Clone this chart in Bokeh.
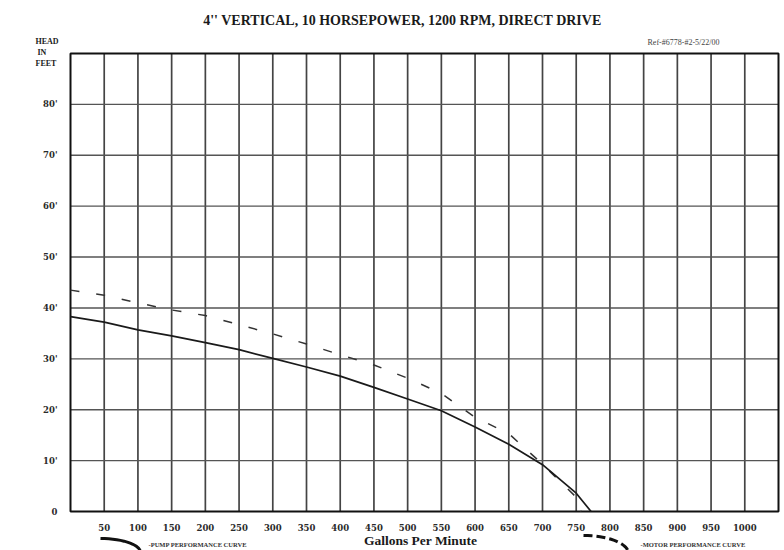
import numpy as np
from bokeh.plotting import figure
from bokeh.models import FixedTicker, Range1d, LinearAxis
from bokeh.core.properties import value
from bokeh.embed import file_html
from bokeh.resources import INLINE

# ---- data ----
gpm_pump = [0, 50, 100, 150, 200, 250, 300, 350, 400, 450, 500, 550, 600, 650, 700, 750, 772]
head_pump = [38.3, 37.2, 35.7, 34.5, 33.2, 31.8, 30.1, 28.4, 26.6, 24.4, 22.1, 19.8, 16.6, 13.2, 9.2, 3.6, 0]
gpm_motor = [0, 50, 100, 150, 200, 250, 300, 350, 400, 450, 500, 550, 600, 650, 700, 750, 757]
head_motor = [43.5, 42.5, 41.0, 39.6, 38.5, 36.7, 34.9, 32.9, 30.8, 28.8, 26.2, 23.2, 18.5, 15.3, 9.3, 2.8, 0]

x_ticks = list(range(50, 1001, 50))
y_ticks = list(range(0, 81, 10))
y_labels = {t: ("0" if t == 0 else f"{t}'") for t in y_ticks}
x_grid = list(range(50, 1001, 50))
y_grid = list(range(10, 81, 10))
X_MAX, Y_MAX = 1050, 90

title_text = "4'' VERTICAL, 10 HORSEPOWER, 1200 RPM, DIRECT DRIVE"
ref_text = "Ref-#6778-#2-5/22/00"
x_title = "Gallons Per Minute"
y_title = ["HEAD", "IN", "FEET"]
pump_legend = "-PUMP PERFORMANCE CURVE"
motor_legend = "-MOTOR PERFORMANCE CURVE"

# ---- geometry (canvas px of the chart box) ----
W, H = 784, 550
FL, FT, FR, FB = 70, 53, 778, 511
sx = (FR - FL) / X_MAX
sy = (FB - FT) / Y_MAX
xr0 = -FL / sx
yr0 = -(H - FB) / sy

def dx(px):
    return (px - FL) / sx

def dy(py):
    return (FB - py) / sy

p = figure(width=W, height=H, output_backend="svg", toolbar_location=None,
           x_range=Range1d(xr0, xr0 + W / sx), y_range=Range1d(yr0, yr0 + H / sy),
           min_border=0, x_axis_type=None, y_axis_type=None)
p.outline_line_color = None
p.background_fill_color = "white"
p.border_fill_color = "white"
p.grid.visible = False

xa = LinearAxis(ticker=FixedTicker(ticks=x_ticks), fixed_location=0)
ya = LinearAxis(ticker=FixedTicker(ticks=y_ticks), fixed_location=0,
                major_label_overrides=y_labels)
for ax in (xa, ya):
    ax.axis_line_color = None
    ax.major_tick_line_color = None
    ax.minor_tick_line_color = None
    ax.major_label_text_font = "DejaVu Serif"
    ax.major_label_text_font_style = "bold"
    ax.major_label_text_font_size = "8.5px"
    ax.major_label_text_color = "#2a2a2a"
xa.major_label_standoff = 6
ya.major_label_standoff = 7
p.add_layout(xa, "below")
p.add_layout(ya, "left")

# grid
p.segment(x0=x_grid, y0=[0] * len(x_grid), x1=x_grid, y1=[Y_MAX] * len(x_grid),
          line_color="#444444", line_width=1.7)
p.segment(x0=[0] * len(y_grid), y0=y_grid, x1=[X_MAX] * len(y_grid), y1=y_grid,
          line_color="#555555", line_width=1.4)
p.quad(left=[0], right=[X_MAX], bottom=[0], top=[Y_MAX], fill_color=None,
       line_color="#111111", line_width=2)

# curves
p.line(gpm_motor, head_motor, line_color="#333333", line_width=1.5, line_dash="9 17")
p.line(gpm_pump, head_pump, line_color="#1a1a1a", line_width=1.7)

def txt(texts, pxs, pys, size, align="center", style="bold", color="#1a1a1a", font="Liberation Serif"):
    p.text(x=[dx(v) for v in pxs], y=[dy(v) for v in pys], text=texts,
           text_align=align, text_baseline="middle", text_font=value(font),
           text_font_style=style, text_font_size=size, text_color=color)

txt([title_text], [402], [20], "14px")
txt([ref_text], [683], [42], "8px", style="normal", color="#444444")
txt(y_title, [35, 37, 35], [41, 52, 63], "8px", align="left")
txt([x_title], [420], [540], "13.5px")
txt([pump_legend], [148], [544], "6.5px", align="left", color="#333333")
txt([motor_legend], [640], [544], "6.5px", align="left", color="#333333")

# legend swatches (quarter-arc strokes)
def arc(cx, cy, rx, ry, a0, a1, n=16):
    t = np.linspace(a0, a1, n)
    return [dx(cx + rx * np.cos(a)) for a in t], [dy(cy - ry * np.sin(a)) for a in t]

ax1, ay1 = arc(100, 552, 40, 14, np.pi * 0.5, np.pi * 0.0)
p.line(ax1, ay1, line_color="#111111", line_width=3)
ax2, ay2 = arc(583, 553, 45, 18, np.pi * 0.5, np.pi * 0.05)
p.line(ax2, ay2, line_color="#111111", line_width=3, line_dash="9 4")

open("out.html", "w").write(file_html(p, INLINE))
